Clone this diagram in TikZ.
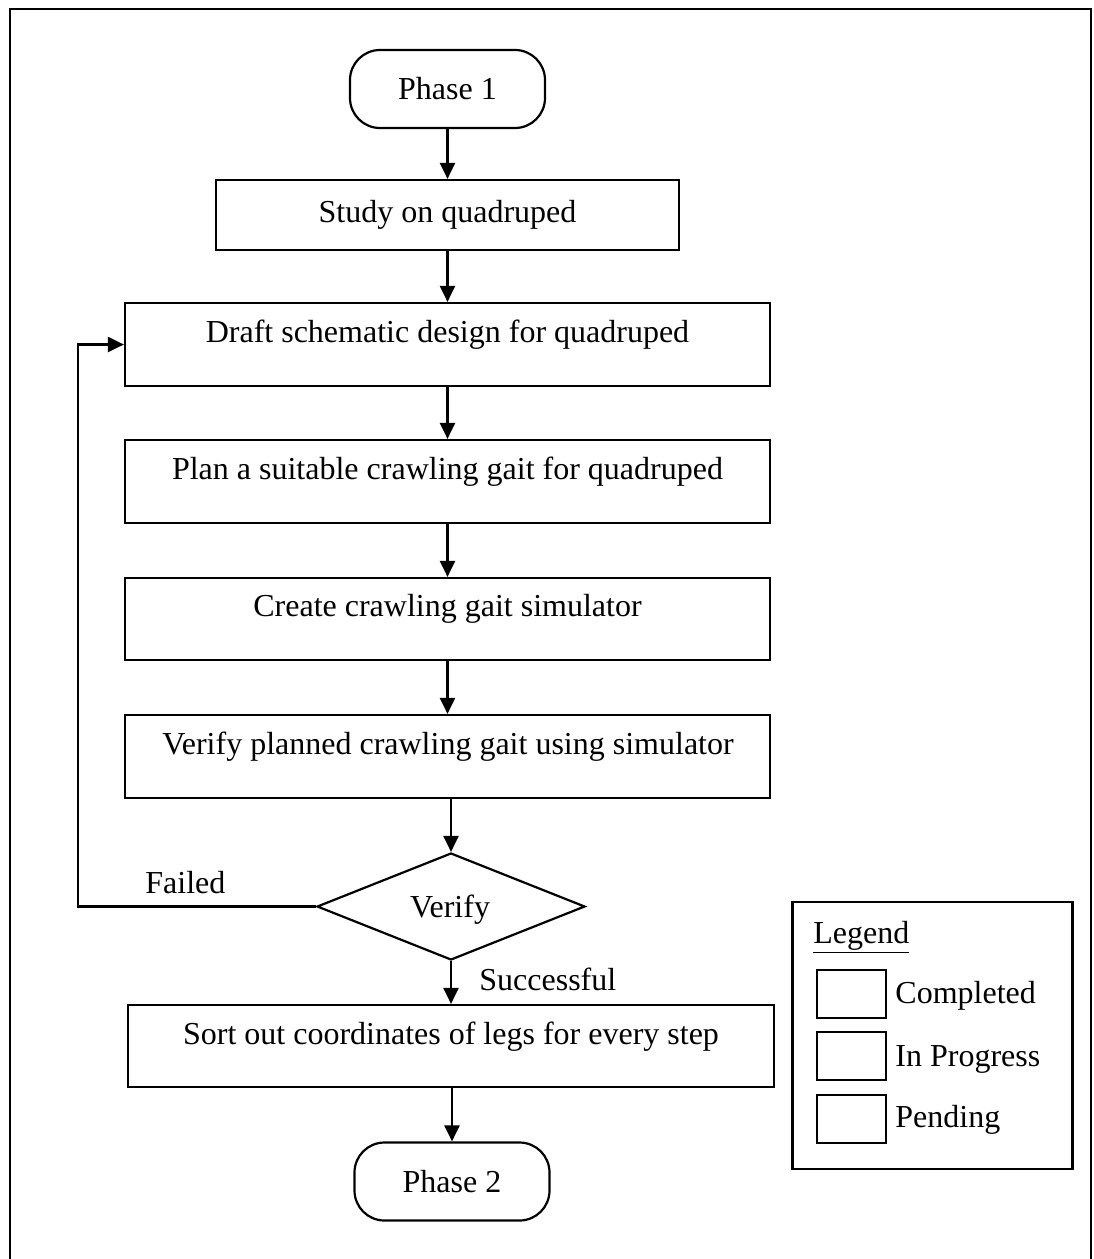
\documentclass[tikz,border=0pt]{standalone}
\usepackage{fontspec}
\setmainfont{Liberation Serif}
\usetikzlibrary{arrows.meta,shapes.geometric}
\begin{document}
\begin{tikzpicture}[x=0.5pt,y=-0.5pt,
  every node/.style={font=\fontsize{16}{19}\selectfont},
  stepbox/.style={draw,line width=1.1pt,inner sep=0pt},
  termbox/.style={draw,line width=1.1pt,inner sep=0pt,rounded corners=15pt,minimum width=97.5pt,minimum height=39pt},
  txt/.style={anchor=base,inner sep=0pt},
  flow/.style={line width=1.1pt,-{Triangle[length=8pt,width=7.5pt]}},
  legbox/.style={draw,line width=1.1pt,inner sep=0pt,minimum width=34.5pt,minimum height=24pt},
  legtxt/.style={anchor=base west,inner sep=0pt}]
\useasboundingbox (0,0) rectangle (1093,1259);
% outer frame
\coordinate (fbl) at (10,1262);
\coordinate (ftl) at (10,9);
\coordinate (ftr) at (1091,9);
\coordinate (fbr) at (1091,1262);
\draw[line width=1.1pt] (fbl) -- (ftl) -- (ftr) -- (fbr);

% terminals
\node[termbox] (p1) at (447.5,89) {};
\node[txt] (p1t) at (447.5,99) {Phase 1};
\node[termbox] (p2) at (452,1181.5) {};
\node[txt] (p2t) at (452,1192) {Phase 2};

% process boxes
\node[stepbox,minimum width=231.5pt,minimum height=35pt] (study) at (447.5,215) {};
\node[txt] (studyt) at (447.5,222) {Study on quadruped};
\node[stepbox,minimum width=322.5pt,minimum height=41.5pt] (draft) at (447.5,344.5) {};
\node[txt] (draftt) at (447.5,342) {Draft schematic design for quadruped};
\node[stepbox,minimum width=322.5pt,minimum height=41.5pt] (plan) at (447.5,481.5) {};
\node[txt] (plant) at (447.5,479) {Plan a suitable crawling gait for quadruped};
\node[stepbox,minimum width=322.5pt,minimum height=41pt] (create) at (447.5,619) {};
\node[txt] (createt) at (447.5,616) {Create crawling gait simulator};
\node[stepbox,minimum width=322.5pt,minimum height=41.5pt] (verb) at (447.5,756.5) {};
\node[txt] (verbt) at (448,754) {Verify planned crawling gait using simulator};
\node[stepbox,minimum width=323pt,minimum height=41pt] (sort) at (451,1046) {};
\node[txt] (sortt) at (451,1044) {Sort out coordinates of legs for every step};

% decision
\node[draw,diamond,line width=1.1pt,inner sep=0pt,minimum width=134pt,minimum height=53.5pt] (dia) at (451,906.5) {};
\node[txt] (diat) at (450,917) {Verify};

% connectors
\draw[flow] (p1.south) -- (study.north);
\draw[flow] (study.south) -- (draft.north);
\draw[flow] (draft.south) -- (plan.north);
\draw[flow] (plan.south) -- (create.north);
\draw[flow] (create.south) -- (verb.north);
\draw[flow] (verb.south -| dia.north) -- (dia.north);
\draw[flow] (dia.south) -- (sort.north -| dia.south);
\draw[flow] (sort.south -| p2.north) -- (p2.north);
\coordinate (c1) at (78,906.5);
\coordinate (c2) at (78,344.5);
\draw[flow] (dia.west) -- (c1) -- (c2) -- (draft.west);
\node[anchor=base west,inner sep=0pt] (failed) at (145,893) {Failed};
\node[anchor=base west,inner sep=0pt] (succ) at (479,990) {Successful};

% legend
\node[draw,line width=1.1pt,inner sep=0pt,minimum width=140pt,minimum height=133.5pt] (legend) at (932.5,1035.5) {};
\node[legtxt] (legt) at (813,943) {\underline{Legend}};
\node[legbox] (lc) at (851.5,994) {};
\node[legbox] (li) at (851.5,1056) {};
\node[legbox] (lp) at (851.5,1119) {};
\node[legtxt] (lct) at (895,1003) {Completed};
\node[legtxt] (lit) at (895,1066) {In Progress};
\node[legtxt] (lpt) at (895,1127) {Pending};
\end{tikzpicture}
\end{document}
